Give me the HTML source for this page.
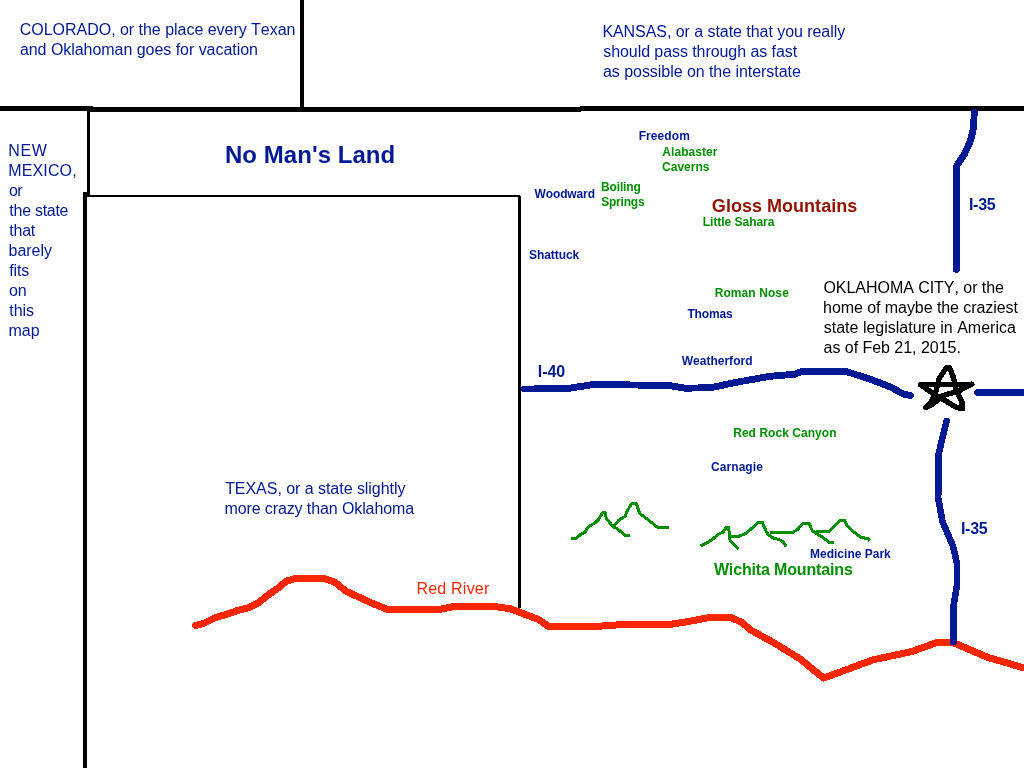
<!DOCTYPE html>
<html lang="en">
<head>
<meta charset="utf-8">
<title>Map of Western Oklahoma</title>
<style>
html,body{margin:0;padding:0;background:#fff;}
body{width:1024px;height:768px;overflow:hidden;}
svg{display:block;will-change:transform;}
svg text{font-family:"Liberation Sans", Arial, Helvetica, sans-serif;white-space:pre;font-kerning:none;}
</style>
</head>
<body>
<svg width="1024" height="768" viewBox="0 0 1024 768">
<rect width="1024" height="768" fill="#ffffff"/>
<g shape-rendering="crispEdges">
<polyline points="195.6,625.4 203.4,623.5 215.2,617.6 226.9,614.3 236.6,610.8 248.4,607.9 258.1,603.0 267.9,595.2 277.7,588.3 286.4,581.1 295.2,578.6 324.5,578.6 335.3,582.5 346.0,591.3 359.7,597.5 371.7,603.0 387.3,609.4 440.0,609.4 453.8,606.5 494.8,606.5 510.4,608.8 526.0,614.7 538.7,619.6 548.5,626.4 598.4,626.3 618.7,624.8 670.8,624.3 687.3,621.7 710.1,617.4 730.5,617.4 741.9,622.5 750.8,630.1 773.6,642.6 799.6,658.6 823.7,678.1 873.2,659.8 911.3,651.7 936.7,642.6 953.2,642.6 987.5,657.3 1026.0,668.5" fill="none" stroke="#ff2600" stroke-width="7" stroke-linecap="round" stroke-linejoin="round" />
<rect x="0" y="106" width="93" height="5" fill="#000000"/>
<rect x="87" y="107" width="494" height="5" fill="#000000"/>
<rect x="580" y="106" width="444" height="5" fill="#000000"/>
<rect x="300" y="0" width="4" height="108" fill="#000000"/>
<rect x="87" y="110" width="3" height="87" fill="#000000"/>
<rect x="83" y="192" width="4" height="576" fill="#000000"/>
<rect x="83" y="195" width="437" height="2" fill="#000000"/>
<rect x="518" y="196" width="3" height="412" fill="#000000"/>
<polyline points="524.6,389.0 566.0,388.8 580.0,386.6 593.0,384.6 634.4,385.0 670.0,385.7 685.2,388.2 710.6,387.7 738.5,381.9 770.0,376.3 794.5,374.3 802.1,371.2 845.3,371.2 870.7,379.4 891.0,387.2 903.5,394.2 910.3,395.3" fill="none" stroke="#011993" stroke-width="6.9" stroke-linecap="round" stroke-linejoin="round" />
<polyline points="977.6,392.5 1027.0,392.5" fill="none" stroke="#011993" stroke-width="6.9" stroke-linecap="round" stroke-linejoin="round" />
<polyline points="974.2,112.4 973.7,127.2 970.5,140.8 964.3,154.4 956.9,165.6 956.4,174.2 956.4,269.5" fill="none" stroke="#011993" stroke-width="6.9" stroke-linecap="round" stroke-linejoin="round" />
<polyline points="946.7,421.0 942.6,437.2 938.6,454.2 938.2,498.2 942.6,521.9 952.8,545.6 956.8,562.5 956.8,586.2 953.5,606.5 953.5,642.0" fill="none" stroke="#011993" stroke-width="6.6" stroke-linecap="round" stroke-linejoin="round" />
<polyline points="571.1,538.4 576.4,538.4 581.1,533.9 585.2,532.2 588.1,526.9 595.2,522.8 598.7,519.3 602.8,512.3 605.1,512.3 606.3,518.7 613.3,526.9 617.4,528.7 625.0,535.4 630.0,535.4" fill="none" stroke="#008f00" stroke-width="3" stroke-linecap="butt" stroke-linejoin="round" />
<polyline points="613.3,526.9 618.6,520.5 625.0,516.4 627.4,510.5 632.1,503.2 636.2,503.2 639.7,513.4 646.7,518.7 657.9,527.5 669.0,527.5" fill="none" stroke="#008f00" stroke-width="3" stroke-linecap="butt" stroke-linejoin="round" />
<polyline points="700.3,545.6 703.7,544.7 712.5,539.3 718.3,534.4 723.2,532.0 726.1,527.6 728.6,527.1 729.6,536.4 730.0,540.3 733.0,543.7 738.3,549.1" fill="none" stroke="#008f00" stroke-width="3" stroke-linecap="butt" stroke-linejoin="round" />
<polyline points="729.6,536.4 738.8,536.4 745.7,533.4 750.5,529.5 758.4,522.2 762.3,522.2 766.2,531.5 768.1,534.4 773.0,537.8 780.8,540.3 783.4,542.2 786.3,546.6" fill="none" stroke="#008f00" stroke-width="3" stroke-linecap="butt" stroke-linejoin="round" />
<polyline points="770.1,532.5 792.7,532.5 798.1,529.0 802.9,523.2 808.8,523.2 812.2,530.5 816.1,533.4 822.0,536.9 829.8,542.7 833.7,542.7" fill="none" stroke="#008f00" stroke-width="3" stroke-linecap="butt" stroke-linejoin="round" />
<polyline points="816.1,531.5 828.8,531.3 834.7,526.1 840.5,520.3 844.5,520.3 847.4,526.1 852.3,531.0 861.1,537.3 868.4,538.8 869.8,540.8" fill="none" stroke="#008f00" stroke-width="3" stroke-linecap="butt" stroke-linejoin="round" />
<polyline points="925.4,407.6 930.2,403.3 935.2,394.6 939.1,378.6 946.3,367.9 949.6,367.9 953.6,378.0 956.2,390.5 961.8,401.5 962.5,408.6" fill="none" stroke="#000000" stroke-width="5.4" stroke-linecap="round" stroke-linejoin="round" />
<polyline points="920.5,384.7 971.8,384.2" fill="none" stroke="#000000" stroke-width="5.4" stroke-linecap="round" stroke-linejoin="round" />
<polyline points="920.5,384.7 932.2,393.0 943.9,399.8 956.6,407.6 962.5,408.6" fill="none" stroke="#000000" stroke-width="5.4" stroke-linecap="round" stroke-linejoin="round" />
<polyline points="971.8,384.2 958.6,391.0 942.0,395.9 932.2,404.7 925.4,407.6" fill="none" stroke="#000000" stroke-width="5.4" stroke-linecap="round" stroke-linejoin="round" />
</g>
<g>
<text x="19.79" y="35" font-size="16" fill="#011993" letter-spacing="-0.027">COLORADO, or the place every Texan</text>
<text x="19.92" y="55" font-size="16" fill="#011993" letter-spacing="-0.041">and Oklahoman goes for vacation</text>
<text x="602.39" y="37" font-size="16" fill="#011993" letter-spacing="-0.052">KANSAS, or a state that you really</text>
<text x="603.25" y="57" font-size="16" fill="#011993" letter-spacing="-0.070">should pass through as fast</text>
<text x="603.02" y="77" font-size="16" fill="#011993" letter-spacing="-0.052">as possible on the interstate</text>
<text x="8.29" y="156" font-size="16" fill="#011993" letter-spacing="0.670">NEW</text>
<text x="8.29" y="176" font-size="16" fill="#011993" letter-spacing="0.131">MEXICO,</text>
<text x="8.93" y="196" font-size="16" fill="#011993" letter-spacing="-0.589">or</text>
<text x="9.36" y="216" font-size="16" fill="#011993" letter-spacing="-0.278">the state</text>
<text x="9.36" y="236" font-size="16" fill="#011993" letter-spacing="-0.243">that</text>
<text x="8.57" y="256" font-size="16" fill="#011993" letter-spacing="-0.023">barely</text>
<text x="9.37" y="276" font-size="16" fill="#011993" letter-spacing="-0.214">fits</text>
<text x="8.93" y="296" font-size="16" fill="#011993">on</text>
<text x="9.36" y="316" font-size="16" fill="#011993" letter-spacing="-0.093">this</text>
<text x="8.54" y="336" font-size="16" fill="#011993">map</text>
<text x="225.14" y="494" font-size="16" fill="#011993" letter-spacing="-0.041">TEXAS, or a state slightly</text>
<text x="224.44" y="514" font-size="16" fill="#011993" letter-spacing="-0.105">more crazy than Oklahoma</text>
<text x="416.49" y="594" font-size="16" fill="#ff2600" letter-spacing="0.206">Red River</text>
<text x="823.44" y="293" font-size="16" fill="#000000" letter-spacing="-0.041">OKLAHOMA CITY, or the</text>
<text x="823.09" y="313" font-size="16" fill="#000000" letter-spacing="-0.065">home of maybe the craziest</text>
<text x="823.75" y="333" font-size="16" fill="#000000">state legislature in America</text>
<text x="823.52" y="353" font-size="16" fill="#000000" letter-spacing="-0.030">as of Feb 21, 2015.</text>
<text x="224.99" y="163" font-size="24" fill="#011993" font-weight="bold" letter-spacing="0.040">No Man's Land</text>
<text x="711.86" y="212" font-size="18" fill="#941100" font-weight="bold" letter-spacing="0.026">Gloss Mountains</text>
<text x="713.88" y="575" font-size="16" fill="#008f00" font-weight="bold" letter-spacing="-0.147">Wichita Mountains</text>
<text x="968.93" y="210" font-size="16" fill="#011993" font-weight="bold" letter-spacing="-0.285">I-35</text>
<text x="960.93" y="534" font-size="16" fill="#011993" font-weight="bold" letter-spacing="-0.252">I-35</text>
<text x="537.73" y="377" font-size="16" fill="#011993" font-weight="bold" letter-spacing="-0.015">I-40</text>
<text x="638.70" y="140" font-size="12" fill="#011993" font-weight="bold" letter-spacing="0.078">Freedom</text>
<text x="662.30" y="156" font-size="12" fill="#008f00" font-weight="bold" letter-spacing="0.061">Alabaster</text>
<text x="662.11" y="171" font-size="12" fill="#008f00" font-weight="bold">Caverns</text>
<text x="600.90" y="191" font-size="12" fill="#008f00" font-weight="bold" letter-spacing="-0.109">Boiling</text>
<text x="601.15" y="206" font-size="12" fill="#008f00" font-weight="bold" letter-spacing="-0.189">Springs</text>
<text x="534.59" y="198" font-size="12" fill="#011993" font-weight="bold" letter-spacing="-0.132">Woodward</text>
<text x="529.05" y="259" font-size="12" fill="#011993" font-weight="bold" letter-spacing="-0.078">Shattuck</text>
<text x="702.80" y="226" font-size="12" fill="#008f00" font-weight="bold" letter-spacing="-0.033">Little Sahara</text>
<text x="714.70" y="297" font-size="12" fill="#008f00" font-weight="bold" letter-spacing="0.085">Roman Nose</text>
<text x="687.47" y="318" font-size="12" fill="#011993" font-weight="bold" letter-spacing="-0.176">Thomas</text>
<text x="681.69" y="365" font-size="12" fill="#011993" font-weight="bold" letter-spacing="0.013">Weatherford</text>
<text x="733.20" y="437" font-size="12" fill="#008f00" font-weight="bold" letter-spacing="0.047">Red Rock Canyon</text>
<text x="711.11" y="471" font-size="12" fill="#011993" font-weight="bold" letter-spacing="0.050">Carnagie</text>
<text x="810.00" y="558" font-size="12" fill="#011993" font-weight="bold" letter-spacing="0.007">Medicine Park</text>
</g>
</svg>
</body>
</html>
